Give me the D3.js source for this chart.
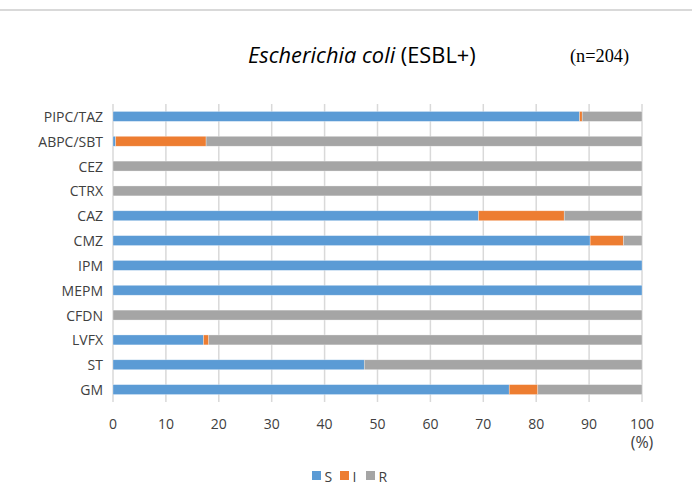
<!DOCTYPE html>
<html><head><meta charset="utf-8">
<script src="https://cdn.jsdelivr.net/npm/d3@7"></script>
<style>body{margin:0;background:#fff}svg{display:block}.serif{font-family:"Liberation Serif","Times New Roman",Times,serif}</style>
</head><body>
<script>
const categories = ["PIPC/TAZ","ABPC/SBT","CEZ","CTRX","CAZ","CMZ","IPM","MEPM","CFDN","LVFX","ST","GM"];
const seriesNames = ["S","I","R"];
const valuesS = [88.2, 0.5, 0, 0, 69.1, 90.2, 100, 100, 0, 17.1, 47.5, 74.9];
const valuesI = [0.5, 17.1, 0, 0, 16.2, 6.3, 0, 0, 0, 1.0, 0, 5.4];
const valuesR = [11.3, 82.4, 100, 100, 14.7, 3.5, 0, 0, 100, 81.9, 52.5, 19.7];
const xTicks = [0,10,20,30,40,50,60,70,80,90,100];
const colors = ["#5B9BD5","#ED7D31","#A5A5A5"];

const W = 692, H = 493;
const svg = d3.select("body").append("svg").attr("width", W).attr("height", H);
const font = "'Open Sans', sans-serif";

// top separator line
svg.append("rect").attr("x",0).attr("y",9).attr("width",W).attr("height",2).attr("fill","#d9d9d9");

const m = {left:113, right:642, top:104, bottom:402};
const x = d3.scaleLinear().domain([0,100]).range([m.left, m.right]);
const y = d3.scaleBand().domain(categories).range([m.top, m.bottom]).paddingInner(0.6).paddingOuter(0.3);

// gridlines
svg.append("g").selectAll("line").data(xTicks).join("line")
  .attr("x1", d=>x(d)).attr("x2", d=>x(d))
  .attr("y1", m.top).attr("y2", m.bottom)
  .attr("stroke","#d9d9d9").attr("stroke-width",1.5);

const stackData = categories.map((c,i)=>({cat:c, S:valuesS[i], I:valuesI[i], R:valuesR[i]}));
const stack = d3.stack().keys(seriesNames)(stackData);

svg.append("g").selectAll("g").data(stack).join("g")
  .attr("fill",(d,i)=>colors[i])
  .selectAll("rect").data(d=>d.filter(p=>p[1]-p[0]>0)).join("rect")
  .attr("x", d=>x(d[0])).attr("width", d=>x(d[1])-x(d[0]))
  .attr("y", d=>y(d.data.cat)).attr("height", y.bandwidth())
  .attr("stroke","#ffffff").attr("stroke-opacity",0.5).attr("stroke-width",0.6);

// category labels
svg.append("g").selectAll("text").data(categories).join("text")
  .attr("x", 103).attr("y", d=>y(d)+y.bandwidth()/2)
  .attr("text-anchor","end").attr("dominant-baseline","central")
  .attr("font-family",font).attr("font-size",14).attr("fill","#404040")
  .text(d=>d);

// x tick labels
svg.append("g").selectAll("text").data(xTicks).join("text")
  .attr("x", d=>x(d)).attr("y", 423)
  .attr("text-anchor","middle").attr("dominant-baseline","central")
  .attr("font-family",font).attr("font-size",14).attr("fill","#404040")
  .text(d=>d);
svg.append("text").attr("x", x(100)).attr("y", 442)
  .attr("text-anchor","middle").attr("dominant-baseline","central")
  .attr("font-family",font).attr("font-size",16).attr("fill","#404040").text("(%)");

// title
const t = svg.append("text").attr("x", 248).attr("y", 63)
  .attr("font-family",font).attr("font-size",21.8).attr("fill","#000");
t.append("tspan").attr("font-style","italic").text("Escherichia coli");
t.append("tspan").text(" (ESBL+)");
svg.append("text").attr("class","serif").attr("x", 570).attr("y", 62)
  .attr("font-size",18.3).attr("fill","#000")
  .text("(n=204)");

// legend
const legX = [312, 340, 366];
const lg = svg.append("g").selectAll("g").data(seriesNames).join("g")
  .attr("transform",(d,i)=>`translate(${legX[i]},471)`);
lg.append("rect").attr("width",9).attr("height",9).attr("fill",(d,i)=>colors[i]);
lg.append("text").attr("x",12.5).attr("y",5).attr("dominant-baseline","central")
  .attr("font-family",font).attr("font-size",14).attr("fill","#404040").text(d=>d);
</script>
</body></html>
